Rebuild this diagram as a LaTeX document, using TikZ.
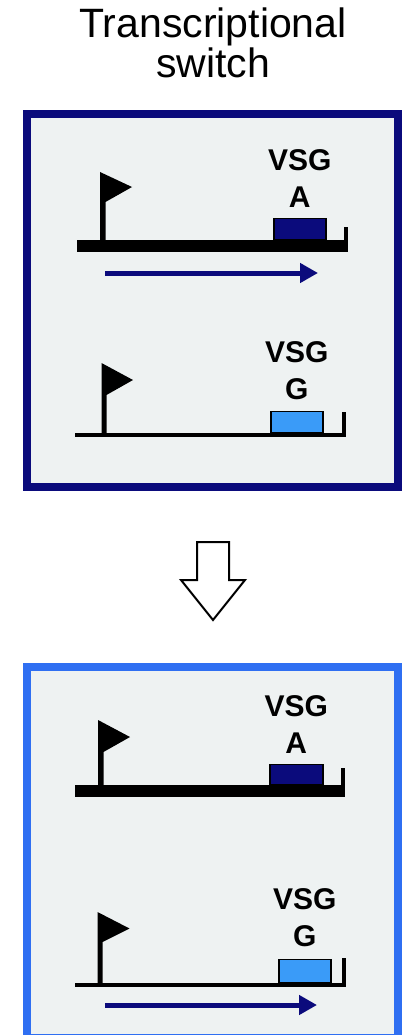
\documentclass[tikz,border=0pt]{standalone}
\usepackage{fontspec}
\setmainfont{Liberation Sans}
\usepackage{tikz}
\usetikzlibrary{arrows.meta,positioning}
\definecolor{panel}{HTML}{EEF2F2}
\definecolor{navy}{HTML}{0B0B7C}
\definecolor{sky}{HTML}{3A9BF8}
\definecolor{bright}{HTML}{2F6FF2}

\begin{document}
\begin{tikzpicture}[x=1pt,y=-1pt, title/.style={font=\fontsize{41}{38}\selectfont,align=center,inner sep=0pt}, vsg/.style={font=\fontsize{30}{37}\selectfont\bfseries,align=center,inner sep=0pt}, frame/.style={fill=panel,line width=8pt}, gene/.style={draw=black,line width=1.5pt,inner sep=0pt,anchor=south west,minimum height=21pt}, dna/.style={fill=black}, txarrow/.style={draw=navy,line width=5pt,-{Triangle[length=18pt,width=19pt]}}, blockarrow/.style={draw=black,fill=white,line width=2pt,miter limit=10}]
\useasboundingbox (0,0) rectangle (408,1035);
\node[title,anchor=north] (heading) at (213,8) {Transcriptional\\switch};
\draw[frame,draw=navy] (27,114) rectangle (398,487);
\draw[frame,draw=bright] (27,667) rectangle (398,1038);
\draw[blockarrow] (197,542) -- (229,542) -- (229,580) -- (245,580) -- (213,620) -- (181,580) -- (197,580) -- cycle;
\fill[dna] (77,240) rectangle (348,252);
\fill[dna] (344,227) rectangle (348,240);
\fill[dna] (100,172) -- (132,187) -- (105.5,202) -- (105.5,240) -- (100,240) -- cycle;
\node[gene,fill=navy,minimum width=52pt] (geneA1) at (273,240) {};
\node[vsg,above=10pt of geneA1] (labelA1) {VSG\\A};
\coordinate (txA1) at (105,273);
\coordinate (txA1end) at (318,273);
\draw[txarrow] (txA1) -- (txA1end);
\fill[dna] (75,433) rectangle (346,437);
\fill[dna] (342,412) rectangle (346,433);
\fill[dna] (101.5,363) -- (133,380) -- (106.5,395) -- (106.5,433) -- (101.5,433) -- cycle;
\node[gene,fill=sky,minimum width=52pt] (geneG1) at (270,433) {};
\node[vsg,above=11pt of geneG1] (labelG1) {VSG\\G};
\fill[dna] (75,785) rectangle (345,797);
\fill[dna] (341,768) rectangle (345,785);
\fill[dna] (98,720) -- (130,737) -- (103.5,752) -- (103.5,785) -- (98,785) -- cycle;
\node[gene,fill=navy,minimum width=53pt,minimum height=20pt] (geneA2) at (269,785) {};
\node[vsg,above=10pt of geneA2] (labelA2) {VSG\\A};
\fill[dna] (75,983) rectangle (346,987);
\fill[dna] (342,958) rectangle (346,983);
\fill[dna] (97.5,912) -- (129.5,928.5) -- (102.5,942) -- (102.5,983) -- (97.5,983) -- cycle;
\node[gene,fill=sky,minimum width=52pt,minimum height=23pt] (geneG2) at (278,983) {};
\node[vsg,above=12pt of geneG2] (labelG2) {VSG\\G};
\coordinate (txG2) at (105,1005);
\coordinate (txG2end) at (317,1005);
\draw[txarrow] (txG2) -- (txG2end);
\end{tikzpicture}
\end{document}
